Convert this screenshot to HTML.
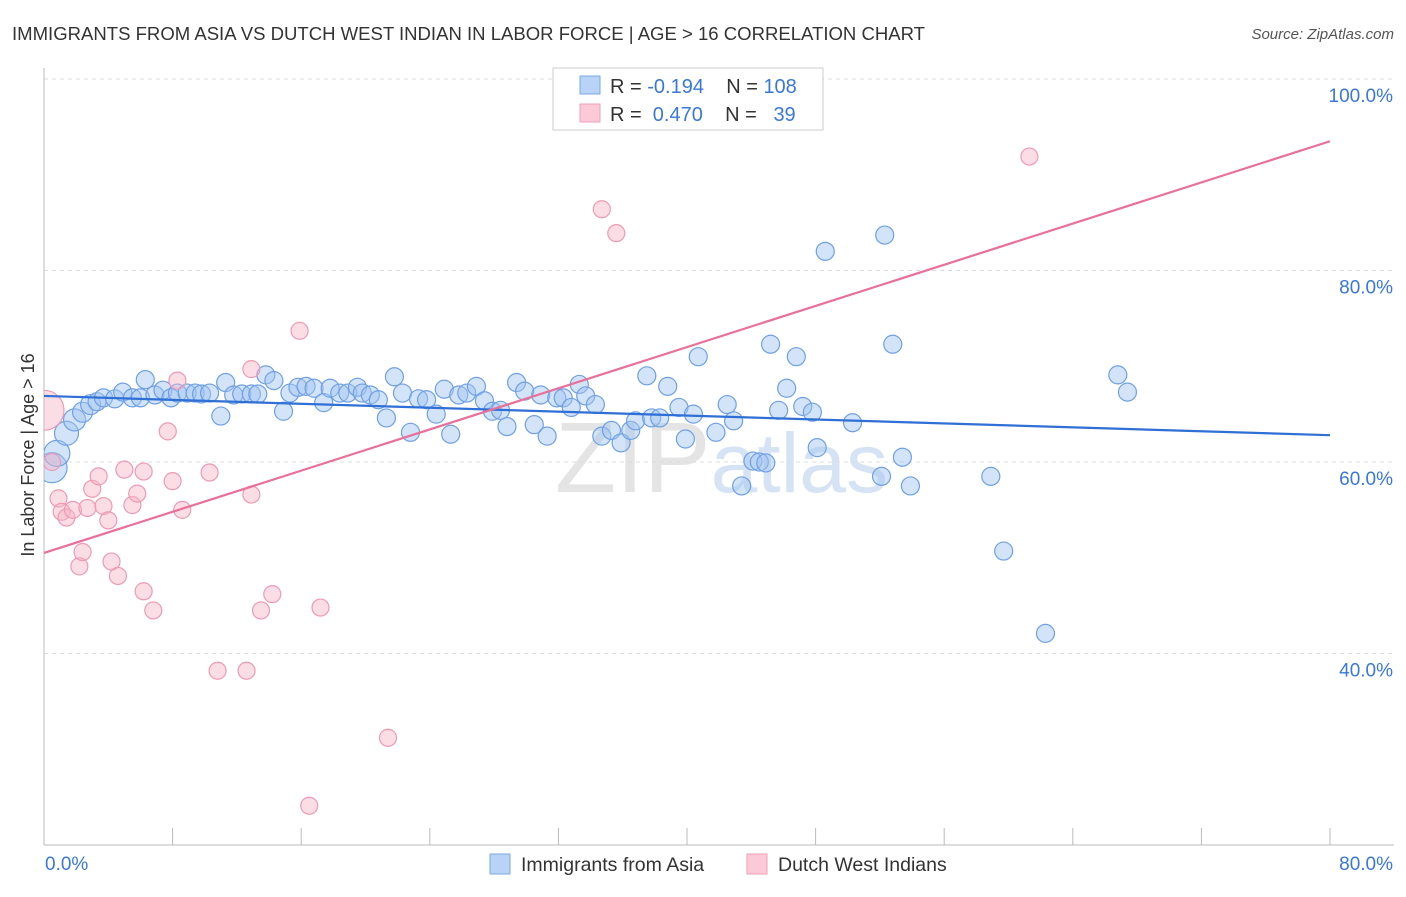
<!DOCTYPE html>
<html><head><meta charset="utf-8"><style>
body{margin:0;background:#fff;font-family:"Liberation Sans",sans-serif;}
svg text{font-family:"Liberation Sans",sans-serif;}
</style></head><body>
<svg id="chart" width="1406" height="892">
<text x="12" y="40" font-size="18" fill="#333" textLength="913" lengthAdjust="spacingAndGlyphs">IMMIGRANTS FROM ASIA VS DUTCH WEST INDIAN IN LABOR FORCE | AGE &gt; 16 CORRELATION CHART</text>
<text x="1394" y="39" font-size="15" fill="#555" font-style="italic" text-anchor="end">Source: ZipAtlas.com</text>
<text x="555" y="492" font-size="100" fill="#e4e4e4" font-family="Liberation Serif">ZIP<tspan fill="#d6e3f4" font-family="Liberation Sans" font-size="84">atlas</tspan></text>
<g id="grid"></g><g id="axes"></g>
<clipPath id="plotclip"><rect x="44" y="60" width="1360" height="785"/></clipPath>
<g id="marks" clip-path="url(#plotclip)"></g>
<text transform="translate(34,455) rotate(-90)" font-size="18" fill="#333" text-anchor="middle">In Labor Force | Age &gt; 16</text>
<text x="45" y="870" font-size="19" fill="#3a78d8">0.0%</text>
<text x="1393" y="870" font-size="19" fill="#3a78d8" text-anchor="end">80.0%</text>
<g>
<rect x="553" y="68" width="270" height="62" fill="#fff" stroke="#ccc"/>
<rect x="580" y="76" width="20" height="18" fill="#b8d3f5" stroke="#7aaae8"/>
<rect x="580" y="104" width="20" height="18" fill="#fbc9d8" stroke="#f0a0b8"/>
<text x="610" y="93" font-size="20" fill="#333" xml:space="preserve" style="white-space:pre">R = <tspan fill="#3a78d8">-0.194</tspan>    N = <tspan fill="#3a78d8">108</tspan></text>
<text x="610" y="121" font-size="20" fill="#333" xml:space="preserve" style="white-space:pre">R =  <tspan fill="#3a78d8">0.470</tspan>    N =   <tspan fill="#3a78d8">39</tspan></text>
</g>
<g>
<rect x="490" y="854" width="20" height="20" fill="#b8d3f5" stroke="#7aaae8"/>
<text x="521" y="871" font-size="19.5" fill="#333">Immigrants from Asia</text>
<rect x="747" y="854" width="20" height="20" fill="#fbc9d8" stroke="#f0a0b8"/>
<text x="778" y="871" font-size="19.5" fill="#333">Dutch West Indians</text>
</g>
</svg>
<script>
const yTicks=[40,60,80,100];
const yTickLabels=["40.0%","60.0%","80.0%","100.0%"];
const xTicks=[0,8,16,24,32,40,48,56,64,72,80];
const blueX=[0.5,0.8,1.4,1.9,2.4,2.9,3.3,3.7,4.4,4.9,5.5,6.0,6.3,6.9,7.4,7.9,8.3,8.9,9.4,9.8,10.3,11.0,11.3,11.8,12.3,12.9,13.3,13.8,14.3,14.9,15.3,15.8,16.3,16.8,17.4,17.8,18.4,18.9,19.5,19.8,20.3,20.8,21.3,21.8,22.3,22.8,23.3,23.8,24.4,24.9,25.3,25.8,26.3,26.9,27.4,27.9,28.4,28.8,29.4,29.9,30.5,30.9,31.3,31.9,32.3,32.8,33.3,33.7,34.3,34.7,35.3,35.9,36.5,36.8,37.5,37.8,38.3,38.8,39.5,39.9,40.4,40.7,41.8,42.5,42.9,43.4,44.1,44.5,44.9,45.2,45.7,46.2,46.8,47.2,47.8,48.1,48.6,50.3,52.1,52.3,52.8,53.4,53.9,58.9,59.7,62.3,66.8,67.4];
const blueY=[59.4,60.9,63.0,64.4,65.2,66.0,66.3,66.7,66.6,67.3,66.7,66.7,68.6,67.0,67.5,66.7,67.2,67.2,67.2,67.1,67.2,64.8,68.3,67.0,67.1,67.1,67.1,69.1,68.5,65.3,67.2,67.8,67.9,67.7,66.2,67.7,67.2,67.2,67.8,67.2,67.0,66.5,64.6,68.9,67.2,63.1,66.6,66.5,65.0,67.6,62.9,67.0,67.2,67.9,66.4,65.3,65.4,63.7,68.3,67.4,63.9,67.0,62.7,66.7,66.7,65.7,68.1,66.9,66.0,62.7,63.3,62.0,63.3,64.3,69.0,64.6,64.6,67.9,65.7,62.4,65.0,71.0,63.1,66.0,64.3,57.5,60.1,60.0,59.9,72.3,65.4,67.7,71.0,65.8,65.2,61.5,82.0,64.1,58.5,83.7,72.3,60.5,57.5,58.5,50.7,42.1,69.1,67.3];
const pinkX=[0.0,0.5,0.9,1.1,1.4,1.8,2.2,2.4,2.7,3.0,3.4,3.7,4.0,4.2,4.6,5.0,5.5,5.8,6.2,6.2,6.8,7.7,8.0,8.3,8.6,10.3,10.8,12.6,12.9,12.9,13.5,14.2,15.9,16.5,17.2,21.4,34.7,35.6,61.3];
const pinkY=[65.4,60.0,56.2,54.8,54.2,55.0,49.1,50.6,55.2,57.2,58.5,55.4,53.9,49.6,48.1,59.2,55.5,56.7,59.0,46.5,44.5,63.2,58.0,68.5,55.0,58.9,38.2,38.2,69.7,56.6,44.5,46.2,73.7,24.1,44.8,31.2,86.4,83.9,91.9];
const blueTrend=[66.9,62.8];
const pinkTrend=[50.5,93.5];
const NS="http://www.w3.org/2000/svg";
const X=v=>44+v*1286/80;
const Y=v=>845-(v-20)*9.575;
function mk(tag,attrs,parent){const e=document.createElementNS(NS,tag);for(const k in attrs)e.setAttribute(k,attrs[k]);document.getElementById(parent).appendChild(e);return e;}
yTicks.forEach((t,i)=>{
 const g=mk('line',{x1:44,x2:1394,y1:Y(t),y2:Y(t),stroke:'#ddd','stroke-dasharray':'4,4'},'grid');
 
 
 const l=mk('text',{x:1393,y:Y(t)+23,'font-size':19,fill:'#3a78d8','text-anchor':'end'},'grid');
 l.textContent=yTickLabels[i];
 
 
});
const ax=mk('line',{x1:44,x2:44,y1:68,y2:845,stroke:'#bbb'},'axes');


const bx=mk('line',{x1:44,x2:1394,y1:845,y2:845,stroke:'#bbb'},'axes');


xTicks.forEach(t=>{
 const e=mk('line',{x1:X(t),x2:X(t),y1:828,y2:845,stroke:'#bbb'},'axes');
 
 
});
blueX.forEach((x,i)=>{
 const r=i<6?[15,13,12,11,10,10][i]:9;
 const c=mk('circle',{cx:X(x),cy:Y(blueY[i]),r:r,fill:'rgba(160,195,240,0.45)',stroke:'#6fa0e6','stroke-width':1.2},'marks');
 
 
});
pinkX.forEach((x,i)=>{
 const r=i==0?20:8.5;
 const c=mk('circle',{cx:X(x),cy:Y(pinkY[i]),r:r,fill:'rgba(247,180,200,0.45)',stroke:'#ee9ab5','stroke-width':1.2},'marks');
 
 
});
const bl=mk('line',{x1:X(0),x2:X(80),y1:Y(blueTrend[0]),y2:Y(blueTrend[1]),stroke:'#2f6fd6','stroke-width':2.2},'marks');


const pl=mk('line',{x1:X(0),x2:X(80),y1:Y(pinkTrend[0]),y2:Y(pinkTrend[1]),stroke:'#e8709a','stroke-width':2.2},'marks');


</script>
</body></html>
